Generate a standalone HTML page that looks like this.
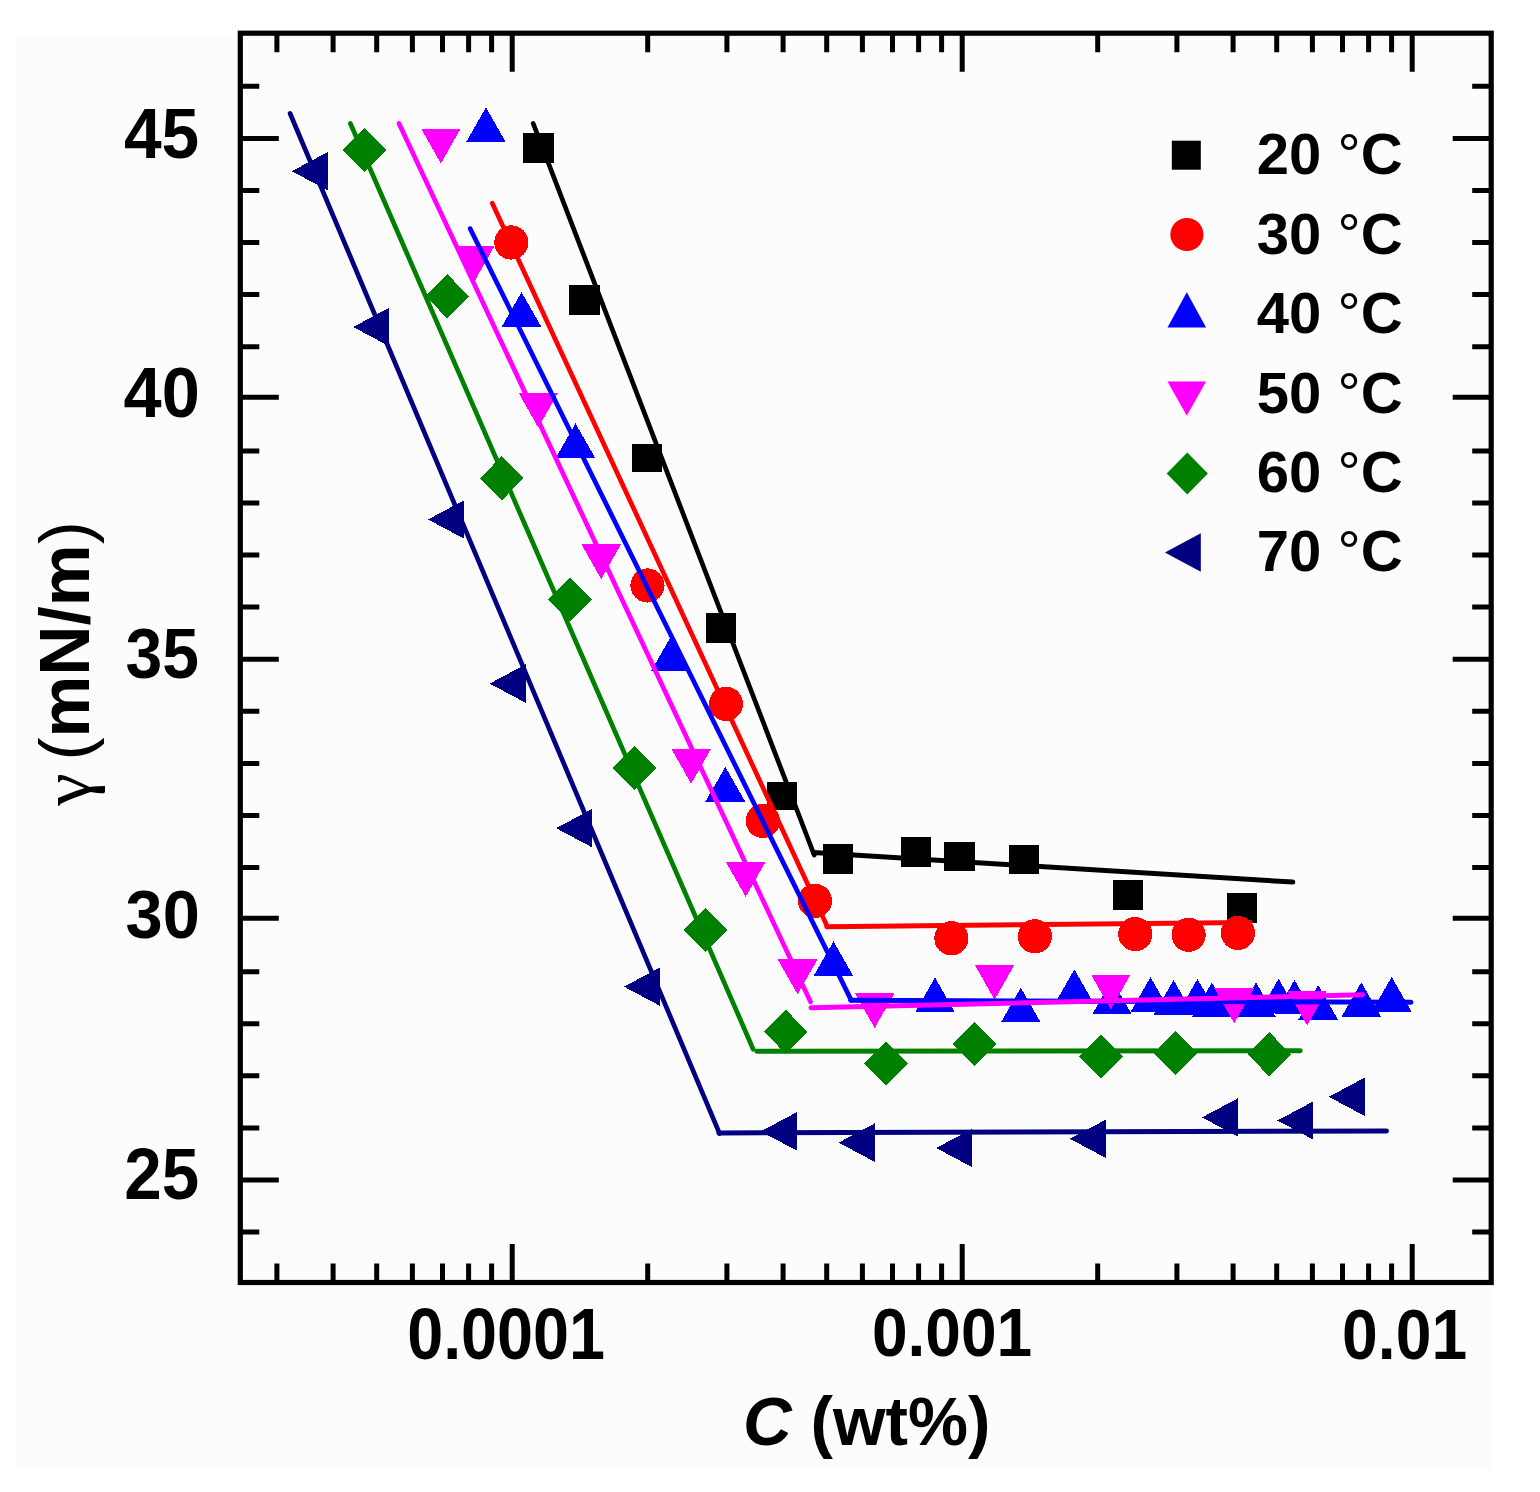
<!DOCTYPE html>
<html><head><meta charset="utf-8"><title>Surface tension vs concentration</title>
<style>html,body{margin:0;padding:0;background:#fff;}svg{display:block;}</style>
</head><body>
<svg width="1540" height="1492" viewBox="0 0 1540 1492">
<rect width="1540" height="1492" fill="#ffffff"/>
<rect x="16" y="35" width="1475" height="1435" fill="#fcfcfc"/>
<g shape-rendering="crispEdges"><rect x="523.3" y="133.4" width="30.4" height="29.8" fill="#000000"/><rect x="569.4" y="285.0" width="30.4" height="29.8" fill="#000000"/><rect x="631.6" y="443.5" width="30.4" height="28.0" fill="#000000"/><rect x="705.5" y="613.2" width="30.4" height="29.8" fill="#000000"/><rect x="767.0" y="782.4" width="30.4" height="27.6" fill="#000000"/><rect x="822.7" y="844.3" width="30.4" height="29.8" fill="#000000"/><rect x="900.7" y="837.0" width="30.4" height="29.8" fill="#000000"/><rect x="944.2" y="841.6" width="30.4" height="29.8" fill="#000000"/><rect x="1008.9" y="844.6" width="30.4" height="29.8" fill="#000000"/><rect x="1112.9" y="880.3" width="30.4" height="29.8" fill="#000000"/><rect x="1226.8" y="893.4" width="30.4" height="29.8" fill="#000000"/><path d="M485.9 107.4L505.7 142.0L466.1 142.0Z" fill="#0000ff"/><path d="M521.5 292.2L541.3 326.8L501.7 326.8Z" fill="#0000ff"/><path d="M575.5 423.4L595.3 458.0L555.7 458.0Z" fill="#0000ff"/><path d="M671.0 636.2L690.8 670.8L651.2 670.8Z" fill="#0000ff"/><path d="M725.3 766.9L745.1 801.5L705.5 801.5Z" fill="#0000ff"/><path d="M833.5 941.3L853.3 975.9L813.7 975.9Z" fill="#0000ff"/><path d="M935.0 977.5L954.8 1012.1L915.2 1012.1Z" fill="#0000ff"/><path d="M1020.8 987.6L1040.6 1022.2L1001.0 1022.2Z" fill="#0000ff"/><path d="M1074.4 969.4L1094.2 1004.0L1054.6 1004.0Z" fill="#0000ff"/><path d="M1112.0 979.7L1131.8 1014.3L1092.2 1014.3Z" fill="#0000ff"/><path d="M1150.5 977.1L1170.3 1011.7L1130.7 1011.7Z" fill="#0000ff"/><path d="M1173.6 980.0L1193.4 1014.6L1153.8 1014.6Z" fill="#0000ff"/><path d="M1197.5 979.0L1217.3 1013.6L1177.7 1013.6Z" fill="#0000ff"/><path d="M1211.8 982.5L1231.6 1017.1L1192.0 1017.1Z" fill="#0000ff"/><path d="M1256.0 982.3L1275.8 1016.9L1236.2 1016.9Z" fill="#0000ff"/><path d="M1278.6 978.8L1298.4 1013.4L1258.8 1013.4Z" fill="#0000ff"/><path d="M1294.5 979.8L1314.3 1014.4L1274.7 1014.4Z" fill="#0000ff"/><path d="M1318.2 985.0L1338.0 1019.6L1298.4 1019.6Z" fill="#0000ff"/><path d="M1361.3 982.3L1381.1 1016.9L1341.5 1016.9Z" fill="#0000ff"/><path d="M1391.7 976.9L1411.5 1011.5L1371.9 1011.5Z" fill="#0000ff"/><path d="M421.1 128.5L460.7 128.5L440.9 163.5Z" fill="#ff00ff"/><path d="M455.0 245.8L494.6 245.8L474.8 280.8Z" fill="#ff00ff"/><path d="M518.5 392.7L558.1 392.7L538.3 427.7Z" fill="#ff00ff"/><path d="M581.4 544.2L621.0 544.2L601.2 579.2Z" fill="#ff00ff"/><path d="M671.4 748.8L711.0 748.8L691.2 783.8Z" fill="#ff00ff"/><path d="M725.9 861.9L765.5 861.9L745.7 896.9Z" fill="#ff00ff"/><path d="M777.8 959.4L817.4 959.4L797.6 994.4Z" fill="#ff00ff"/><path d="M854.9 993.0L894.5 993.0L874.7 1028.0Z" fill="#ff00ff"/><path d="M974.8 964.8L1014.4 964.8L994.6 999.8Z" fill="#ff00ff"/><path d="M1091.0 974.5L1130.6 974.5L1110.8 1009.5Z" fill="#ff00ff"/><path d="M1214.4 988.4L1254.0 988.4L1234.2 1023.4Z" fill="#ff00ff"/><path d="M1287.4 990.6L1327.0 990.6L1307.2 1025.6Z" fill="#ff00ff"/><circle cx="511.4" cy="242.5" r="17.1" fill="#ff0000"/><circle cx="647.5" cy="585.5" r="17.1" fill="#ff0000"/><circle cx="726.0" cy="703.9" r="17.1" fill="#ff0000"/><circle cx="762.8" cy="821.0" r="17.1" fill="#ff0000"/><circle cx="815.0" cy="900.8" r="17.1" fill="#ff0000"/><circle cx="951.4" cy="938.3" r="17.1" fill="#ff0000"/><circle cx="1034.9" cy="936.3" r="17.1" fill="#ff0000"/><circle cx="1135.3" cy="934.1" r="17.1" fill="#ff0000"/><circle cx="1188.6" cy="934.8" r="17.1" fill="#ff0000"/><circle cx="1237.9" cy="932.9" r="17.1" fill="#ff0000"/><path d="M364.7 127.8L386.5 149.9L364.7 172.0L342.9 149.9Z" fill="#008000"/><path d="M447.2 274.1L469.0 296.2L447.2 318.3L425.4 296.2Z" fill="#008000"/><path d="M501.8 456.1L523.6 478.2L501.8 500.3L480.0 478.2Z" fill="#008000"/><path d="M570.1 577.4L591.9 599.5L570.1 621.6L548.3 599.5Z" fill="#008000"/><path d="M634.5 745.8L656.3 767.9L634.5 790.0L612.7 767.9Z" fill="#008000"/><path d="M705.5 908.0L727.3 930.1L705.5 952.2L683.7 930.1Z" fill="#008000"/><path d="M785.9 1009.8L807.7 1031.9L785.9 1054.0L764.1 1031.9Z" fill="#008000"/><path d="M886.1 1041.2L907.9 1063.3L886.1 1085.4L864.3 1063.3Z" fill="#008000"/><path d="M974.6 1021.9L996.4 1044.0L974.6 1066.1L952.8 1044.0Z" fill="#008000"/><path d="M1101.0 1034.2L1122.8 1056.3L1101.0 1078.4L1079.2 1056.3Z" fill="#008000"/><path d="M1175.7 1031.1L1197.5 1053.2L1175.7 1075.3L1153.9 1053.2Z" fill="#008000"/><path d="M1269.4 1032.3L1291.2 1054.4L1269.4 1076.5L1247.6 1054.4Z" fill="#008000"/><path d="M291.8 171.2L327.8 152.0L327.8 190.4Z" fill="#000080"/><path d="M353.1 327.0L389.1 307.8L389.1 346.2Z" fill="#000080"/><path d="M428.0 519.5L464.0 500.3L464.0 538.7Z" fill="#000080"/><path d="M489.6 683.6L525.6 664.4L525.6 702.8Z" fill="#000080"/><path d="M556.1 828.2L592.1 809.0L592.1 847.4Z" fill="#000080"/><path d="M624.0 986.7L660.0 967.5L660.0 1005.9Z" fill="#000080"/><path d="M760.8 1131.4L796.8 1112.2L796.8 1150.6Z" fill="#000080"/><path d="M838.7 1142.6L874.7 1123.4L874.7 1161.8Z" fill="#000080"/><path d="M936.1 1148.0L972.1 1128.8L972.1 1167.2Z" fill="#000080"/><path d="M1069.9 1138.8L1105.9 1119.6L1105.9 1158.0Z" fill="#000080"/><path d="M1202.0 1117.4L1238.0 1098.2L1238.0 1136.6Z" fill="#000080"/><path d="M1277.4 1120.5L1313.4 1101.3L1313.4 1139.7Z" fill="#000080"/><path d="M1328.8 1096.8L1364.8 1077.6L1364.8 1116.0Z" fill="#000080"/></g>
<path d="M533.2 123.5L814.2 855.0" fill="none" stroke="#000000" stroke-width="4.7" stroke-linecap="round"/>
<path d="M813.5 852.6L1292.8 882.1" fill="none" stroke="#000000" stroke-width="5.0" stroke-linecap="round"/>
<path d="M492.3 203.3L827.4 926.8" fill="none" stroke="#ff0000" stroke-width="4.7" stroke-linecap="round"/>
<path d="M826.8 926.7L1250.0 922.6" fill="none" stroke="#ff0000" stroke-width="5.0" stroke-linecap="round"/>
<path d="M470.2 228.7L851.3 1000.4" fill="none" stroke="#0000ff" stroke-width="4.7" stroke-linecap="round"/>
<path d="M850.6 1000.3L1411.0 1002.3" fill="none" stroke="#0000ff" stroke-width="5.0" stroke-linecap="round"/>
<path d="M399.0 123.5L810.5 1001.8" fill="none" stroke="#ff00ff" stroke-width="4.7" stroke-linecap="round"/>
<path d="M811.0 1007.8L1362.5 994.8" fill="none" stroke="#ff00ff" stroke-width="5.0" stroke-linecap="round"/>
<path d="M350.4 123.5L753.2 1049.2" fill="none" stroke="#008000" stroke-width="4.7" stroke-linecap="round"/>
<path d="M756.8 1051.3L1300.2 1050.7" fill="none" stroke="#008000" stroke-width="5.0" stroke-linecap="round"/>
<path d="M290.1 113.5L719.6 1133.6" fill="none" stroke="#000080" stroke-width="4.7" stroke-linecap="round"/>
<path d="M718.8 1133.0L1386.5 1131.0" fill="none" stroke="#000080" stroke-width="5.0" stroke-linecap="round"/>
<g stroke="#000" stroke-width="5.0" fill="none"><path d="M240.3 1232.1h19.0M1491.2 1232.1h-19.0"/><path d="M240.3 1180.0h38.5M1491.2 1180.0h-38.5"/><path d="M240.3 1127.9h19.0M1491.2 1127.9h-19.0"/><path d="M240.3 1075.8h19.0M1491.2 1075.8h-19.0"/><path d="M240.3 1023.8h19.0M1491.2 1023.8h-19.0"/><path d="M240.3 971.7h19.0M1491.2 971.7h-19.0"/><path d="M240.3 918.3h38.5M1491.2 918.3h-38.5"/><path d="M240.3 867.5h19.0M1491.2 867.5h-19.0"/><path d="M240.3 815.4h19.0M1491.2 815.4h-19.0"/><path d="M240.3 763.4h19.0M1491.2 763.4h-19.0"/><path d="M240.3 711.3h19.0M1491.2 711.3h-19.0"/><path d="M240.3 659.2h38.5M1491.2 659.2h-38.5"/><path d="M240.3 607.1h19.0M1491.2 607.1h-19.0"/><path d="M240.3 555.0h19.0M1491.2 555.0h-19.0"/><path d="M240.3 503.0h19.0M1491.2 503.0h-19.0"/><path d="M240.3 450.9h19.0M1491.2 450.9h-19.0"/><path d="M240.3 397.3h38.5M1491.2 397.3h-38.5"/><path d="M240.3 346.7h19.0M1491.2 346.7h-19.0"/><path d="M240.3 294.6h19.0M1491.2 294.6h-19.0"/><path d="M240.3 242.6h19.0M1491.2 242.6h-19.0"/><path d="M240.3 190.5h19.0M1491.2 190.5h-19.0"/><path d="M240.3 138.4h38.5M1491.2 138.4h-38.5"/><path d="M240.3 86.3h19.0M1491.2 86.3h-19.0"/><path d="M276.9 1282.5v-19.0M276.9 33.2v19.0"/><path d="M333.1 1282.5v-19.0M333.1 33.2v19.0"/><path d="M376.7 1282.5v-19.0M376.7 33.2v19.0"/><path d="M412.4 1282.5v-19.0M412.4 33.2v19.0"/><path d="M442.5 1282.5v-19.0M442.5 33.2v19.0"/><path d="M468.6 1282.5v-19.0M468.6 33.2v19.0"/><path d="M491.6 1282.5v-19.0M491.6 33.2v19.0"/><path d="M512.2 1282.5v-38.5M512.2 33.2v38.5"/><path d="M647.7 1282.5v-19.0M647.7 33.2v19.0"/><path d="M726.9 1282.5v-19.0M726.9 33.2v19.0"/><path d="M783.1 1282.5v-19.0M783.1 33.2v19.0"/><path d="M826.7 1282.5v-19.0M826.7 33.2v19.0"/><path d="M862.4 1282.5v-19.0M862.4 33.2v19.0"/><path d="M892.5 1282.5v-19.0M892.5 33.2v19.0"/><path d="M918.6 1282.5v-19.0M918.6 33.2v19.0"/><path d="M941.6 1282.5v-19.0M941.6 33.2v19.0"/><path d="M962.2 1282.5v-38.5M962.2 33.2v38.5"/><path d="M1097.7 1282.5v-19.0M1097.7 33.2v19.0"/><path d="M1176.9 1282.5v-19.0M1176.9 33.2v19.0"/><path d="M1233.1 1282.5v-19.0M1233.1 33.2v19.0"/><path d="M1276.7 1282.5v-19.0M1276.7 33.2v19.0"/><path d="M1312.4 1282.5v-19.0M1312.4 33.2v19.0"/><path d="M1342.5 1282.5v-19.0M1342.5 33.2v19.0"/><path d="M1368.6 1282.5v-19.0M1368.6 33.2v19.0"/><path d="M1391.6 1282.5v-19.0M1391.6 33.2v19.0"/><path d="M1412.2 1282.5v-38.5M1412.2 33.2v38.5"/></g>
<rect x="240.3" y="33.2" width="1250.9" height="1249.3" fill="none" stroke="#000" stroke-width="5.2"/>
<g font-family="'Liberation Sans', Arial, Helvetica, sans-serif" font-weight="bold" fill="#000">
<text transform="matrix(0.9667 0 0 0.9939 123.93 158.05)" font-size="70">45</text>
<text transform="matrix(0.9784 0 0 0.9960 123.62 417.35)" font-size="70">40</text>
<text transform="matrix(0.9441 0 0 1.0101 125.55 678.34)" font-size="70">35</text>
<text transform="matrix(0.9529 0 0 0.9919 125.53 938.06)" font-size="70">30</text>
<text transform="matrix(0.9619 0 0 1.0303 124.20 1199.33)" font-size="70">25</text>
<text transform="matrix(0.9246 0 0 1.0323 407.16 1358.53)" font-size="70">0.0001</text>
<text transform="matrix(0.9155 0 0 0.9919 871.88 1356.26)" font-size="70">0.001</text>
<text transform="matrix(0.9179 0 0 1.0020 1342.08 1359.45)" font-size="70">0.01</text>
<text transform="matrix(0.9646 0 0 0.9732 743.02 1444.89)" font-size="70"><tspan font-style="italic">C</tspan> (wt%)</text>
<text transform="matrix(0 -1.05 0.99 0 89.8 805.8)" font-size="70" font-family="'Liberation Serif', serif" font-weight="normal">γ</text>
<text transform="matrix(0 -0.993 1.0 0 89 760.6)" font-size="70"><tspan font-weight="normal">(</tspan>mN/m<tspan font-weight="normal">)</tspan></text>
<text x="1256.8" y="174.4" font-size="58">20 <tspan font-weight="normal">°</tspan>C</text>
<text x="1256.8" y="253.8" font-size="58">30 <tspan font-weight="normal">°</tspan>C</text>
<text x="1256.8" y="333.2" font-size="58">40 <tspan font-weight="normal">°</tspan>C</text>
<text x="1256.8" y="412.6" font-size="58">50 <tspan font-weight="normal">°</tspan>C</text>
<text x="1256.8" y="492.0" font-size="58">60 <tspan font-weight="normal">°</tspan>C</text>
<text x="1256.8" y="571.4" font-size="58">70 <tspan font-weight="normal">°</tspan>C</text>
</g>
<g><rect x="1171.8" y="140.7" width="29.0" height="29.0" fill="#000000"/><circle cx="1186.9" cy="234.5" r="16.6" fill="#ff0000"/><path d="M1186.8 292.3L1206.1 327.4L1167.5 327.4Z" fill="#0000ff"/><path d="M1167.5 381.6L1206.1 381.6L1186.8 415.7Z" fill="#ff00ff"/><path d="M1187.3 452.6L1207.9 473.6L1187.3 494.6L1166.7 473.6Z" fill="#008000"/><path d="M1164.9 552.5L1200.8 533.2L1200.8 571.8Z" fill="#000080"/></g>
</svg>
</body></html>
